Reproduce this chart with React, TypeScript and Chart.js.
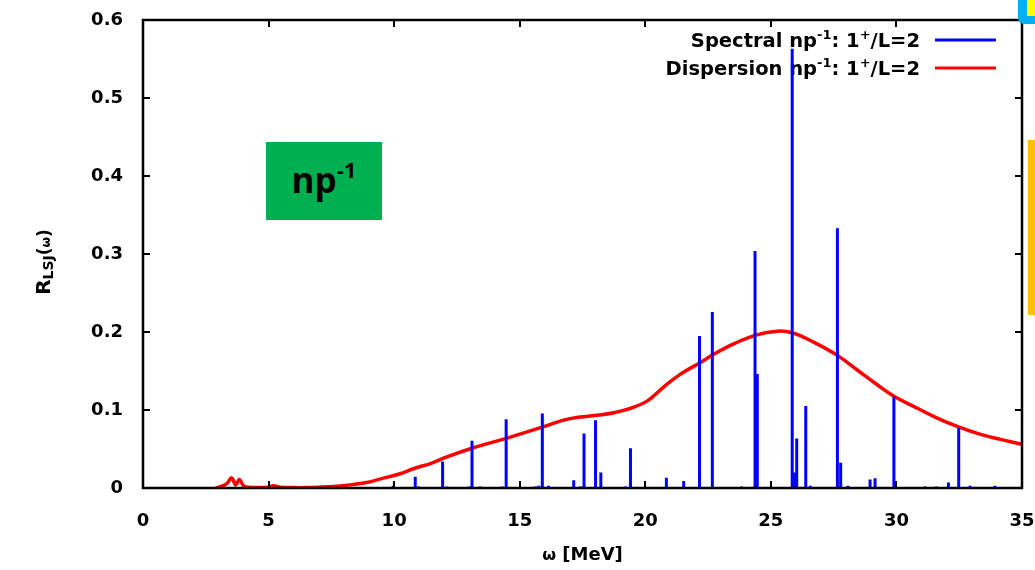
import React, { useEffect, useRef } from "react";
import { Chart, registerables } from "chart.js";

Chart.register(...registerables);

const FONT = '"DejaVu Sans", "Liberation Sans", sans-serif';

const xTickValues = [0, 5, 10, 15, 20, 25, 30, 35];
const xTickLabels = ["0", "5", "10", "15", "20", "25", "30", "35"];
const yTickValues = [0, 0.1, 0.2, 0.3, 0.4, 0.5, 0.6];
const yTickLabels = ["0", "0.1", "0.2", "0.3", "0.4", "0.5", "0.6"];

// Spectral np^-1 strengths (stick spectrum)
const spectralEnergies = [
  9.96, 10.84, 10.97, 11.93, 12.1, 12.99, 13.1, 13.42, 14.3, 14.46, 15.62, 15.76,
  15.9, 16.15, 17.15, 17.42, 17.56, 18.02, 18.23, 19.21, 19.41, 20.84, 21.53,
  22.16, 22.67, 23.83, 24.37, 24.46, 25.85, 25.95, 26.03, 26.39, 26.57, 27.65,
  27.78, 28.07, 28.95, 29.15, 29.9, 31.14, 31.59, 32.07, 32.48, 32.93, 33.92,
];
const spectralStrengths = [
  0.003, 0.0145, 0.002, 0.034, 0.002, 0.002, 0.0605, 0.002, 0.002, 0.088, 0.002, 0.003,
  0.0955, 0.003, 0.01, 0.002, 0.07, 0.087, 0.02, 0.002, 0.051, 0.013, 0.009,
  0.195, 0.2255, 0.002, 0.304, 0.146, 0.563, 0.02, 0.0635, 0.105, 0.003, 0.333,
  0.0325, 0.003, 0.011, 0.0125, 0.117, 0.002, 0.002, 0.007, 0.077, 0.003, 0.003,
];

// Dispersion np^-1 (smooth response)
const dispersionEnergies = [
  2.9, 3.1, 3.35, 3.53, 3.69, 3.84, 4.0, 4.2, 4.6, 5.0, 5.2, 5.45, 6.0, 6.5, 7.0,
  7.6, 8.25, 8.9, 9.5, 10.2, 10.8, 11.5, 12.1, 13.1, 14.5, 15.9, 16.75, 17.4,
  18.0, 18.75, 19.4, 20.1, 20.75, 21.4, 22.2, 22.7, 23.5, 24.4, 25.25, 25.85,
  26.7, 27.65, 28.45, 29.25, 29.9, 30.85, 31.6, 32.5, 33.35, 34.15, 35.0,
];
const dispersionValues = [
  0.0, 0.002, 0.006, 0.013, 0.004, 0.011, 0.003, 0.001, 0.0005, 0.001, 0.003, 0.001,
  0.0005, 0.0005, 0.001, 0.002, 0.004, 0.007, 0.012, 0.018, 0.025, 0.032, 0.04,
  0.051, 0.064, 0.078, 0.087, 0.091, 0.093, 0.0965, 0.102, 0.112, 0.13, 0.146,
  0.161, 0.171, 0.1845, 0.196, 0.201, 0.199, 0.187, 0.17, 0.151, 0.132, 0.1176,
  0.102, 0.09, 0.078, 0.0687, 0.0623, 0.056,
];

type Part = { t: string; sup?: boolean; sub?: boolean; size?: number };

const spectralLegend: Part[] = [
  { t: "Spectral np" }, { t: "-1", sup: true }, { t: ": 1" }, { t: "+", sup: true }, { t: "/L=2" },
];
const dispersionLegend: Part[] = [
  { t: "Dispersion np" }, { t: "-1", sup: true }, { t: ": 1" }, { t: "+", sup: true }, { t: "/L=2" },
];

const MAIN = 19.5;
const SUP = 13;

function partFont(p: Part) {
  const s = p.size ?? (p.sup || p.sub ? SUP : MAIN);
  return `bold ${s}px ${FONT}`;
}

function measureParts(ctx: CanvasRenderingContext2D, parts: Part[]) {
  let w = 0;
  for (const p of parts) {
    ctx.font = partFont(p);
    w += ctx.measureText(p.t).width;
  }
  return w;
}

function drawParts(ctx: CanvasRenderingContext2D, parts: Part[], x: number, y: number) {
  ctx.textBaseline = "alphabetic";
  ctx.textAlign = "left";
  let cx = x;
  for (const p of parts) {
    ctx.font = partFont(p);
    const dy = p.sup ? -8 : p.sub ? 3 : 0;
    ctx.fillText(p.t, cx, y + dy);
    cx += ctx.measureText(p.t).width;
  }
}

const overlayPlugin = {
  id: "overlay",
  beforeDatasetsDraw(chart: any) {
    const ctx: CanvasRenderingContext2D = chart.ctx;
    ctx.save();
    ctx.fillStyle = "#000";
    const textRight = 920;
    const rows = [
      { parts: spectralLegend, color: "#0000FF", y: 40 },
      { parts: dispersionLegend, color: "#FF0000", y: 68 },
    ];
    for (const r of rows) {
      const w = measureParts(ctx, r.parts);
      drawParts(ctx, r.parts, textRight - w, r.y + 7);
      ctx.strokeStyle = r.color;
      ctx.lineWidth = 3;
      ctx.beginPath();
      ctx.moveTo(935, r.y);
      ctx.lineTo(996, r.y);
      ctx.stroke();
    }
    ctx.restore();
  },
  afterDatasetsDraw(chart: any) {
    const ctx: CanvasRenderingContext2D = chart.ctx;
    const { left, right, top, bottom } = chart.chartArea;
    const xs = chart.scales.x;
    const ys = chart.scales.y;
    ctx.save();
    ctx.strokeStyle = "#000";
    ctx.lineWidth = 2;
    ctx.beginPath();
    for (const v of xTickValues) {
      if (v === xs.min || v === xs.max) continue;
      const px = Math.round(xs.getPixelForValue(v));
      ctx.moveTo(px, bottom);
      ctx.lineTo(px, bottom - 7);
      ctx.moveTo(px, top);
      ctx.lineTo(px, top + 7);
    }
    for (const v of yTickValues) {
      if (v === ys.min || v === ys.max) continue;
      const py = Math.round(ys.getPixelForValue(v));
      ctx.moveTo(left, py);
      ctx.lineTo(left + 7, py);
      ctx.moveTo(right, py);
      ctx.lineTo(right - 7, py);
    }
    ctx.stroke();
    ctx.lineWidth = 2.5;
    ctx.strokeRect(left, top, right - left, bottom - top);
    ctx.restore();
  },
  afterDraw(chart: any) {
    const ctx: CanvasRenderingContext2D = chart.ctx;
    const { left, right } = chart.chartArea;
    ctx.save();
    ctx.fillStyle = "#000";
    // x title
    const xParts: Part[] = [{ t: "ω", size: 16 }, { t: " [MeV]", size: 18 }];
    const xw = measureParts(ctx, xParts);
    drawParts(ctx, xParts, (left + right) / 2 - xw / 2, 560);
    // y title
    const yParts: Part[] = [
      { t: "R", size: 20 },
      { t: "LSJ", size: 14, sub: true },
      { t: "(", size: 17 },
      { t: "ω", size: 12 },
      { t: ")", size: 17 },
    ];
    const yw = measureParts(ctx, yParts);
    ctx.translate(50, 262);
    ctx.rotate(-Math.PI / 2);
    drawParts(ctx, yParts, -yw / 2, 0);
    ctx.restore();
  },
};

export default function App() {
  const canvasRef = useRef<HTMLCanvasElement | null>(null);

  useEffect(() => {
    const canvas = canvasRef.current;
    if (!canvas) return;

    const stickData: { x: number; y: number }[] = [];
    spectralEnergies.forEach((e, i) => {
      stickData.push({ x: e, y: 0 });
      stickData.push({ x: e, y: spectralStrengths[i] });
      stickData.push({ x: e, y: NaN });
    });
    const curveData = dispersionEnergies.map((e, i) => ({ x: e, y: dispersionValues[i] }));

    const tickFont = { family: FONT, size: 18, weight: "bold" as const };

    const chart = new Chart(canvas, {
      type: "line",
      data: {
        datasets: [
          {
            label: "Dispersion",
            data: curveData,
            borderColor: "#FF0000",
            borderWidth: 3.5,
            pointRadius: 0,
            tension: 0.4,
            fill: false,
            order: 2,
          },
          {
            label: "Spectral",
            data: stickData,
            borderColor: "#0000FF",
            borderWidth: 3,
            borderCapStyle: "butt",
            pointRadius: 0,
            spanGaps: false,
            tension: 0,
            fill: false,
            order: 1,
          },
        ],
      },
      options: {
        animation: false,
        responsive: false,
        maintainAspectRatio: false,
        events: [],
        layout: { padding: { top: 20, right: 13, left: 0, bottom: 0 } },
        plugins: { legend: { display: false }, tooltip: { enabled: false } },
        scales: {
          x: {
            type: "linear",
            min: 0,
            max: 35,
            grid: { display: false },
            border: { display: false },
            afterBuildTicks: (s: any) => {
              s.ticks = xTickValues.map((v) => ({ value: v }));
            },
            afterFit: (s: any) => {
              s.height = 82;
              s.paddingLeft = 0;
              s.paddingRight = 0;
              s.paddingTop = 0;
              s.paddingBottom = 0;
            },
            ticks: {
              autoSkip: false,
              maxRotation: 0,
              padding: 15,
              color: "#000",
              font: tickFont,
              callback: (_v: any, i: number) => xTickLabels[i],
            },
          },
          y: {
            type: "linear",
            min: 0,
            max: 0.6,
            grid: { display: false },
            border: { display: false },
            afterBuildTicks: (s: any) => {
              s.ticks = yTickValues.map((v) => ({ value: v }));
            },
            afterFit: (s: any) => {
              s.width = 143;
              s.paddingLeft = 0;
              s.paddingRight = 0;
              s.paddingTop = 0;
              s.paddingBottom = 0;
            },
            ticks: {
              autoSkip: false,
              padding: 12,
              color: "#000",
              font: tickFont,
              callback: (_v: any, i: number) => yTickLabels[i],
            },
          },
        },
      },
      plugins: [overlayPlugin],
    } as any);

    return () => chart.destroy();
  }, []);

  return (
    <div
      style={{
        position: "fixed",
        left: 0,
        top: 0,
        width: 1035,
        height: 570,
        background: "#fff",
        overflow: "hidden",
      }}
    >
      <canvas ref={canvasRef} width={1035} height={570} style={{ display: "block" }} />
      <div
        style={{
          position: "absolute",
          left: 266,
          top: 142,
          width: 116,
          height: 78,
          background: "#00B050",
          display: "flex",
          alignItems: "center",
          justifyContent: "center",
          fontFamily: '"Open Sans", sans-serif',
          fontWeight: 700,
          fontSize: 35,
          color: "#000",
          lineHeight: 1,
        }}
      >
        <span style={{ position: "relative", top: -2 }}>
          np
          <span style={{ fontSize: 22, position: "relative", top: -15 }}>-1</span>
        </span>
      </div>
      <div
        style={{
          position: "absolute",
          left: 1018,
          top: -8,
          width: 30,
          height: 32,
          background: "#00B0F0",
          borderRadius: 6,
        }}
      />
      <div
        style={{
          position: "absolute",
          left: 1027,
          top: 0,
          width: 10,
          height: 16,
          background: "#FFFF00",
        }}
      />
      <div
        style={{
          position: "absolute",
          left: 1028,
          top: 140,
          width: 10,
          height: 175,
          background: "#FFC000",
        }}
      />
    </div>
  );
}
